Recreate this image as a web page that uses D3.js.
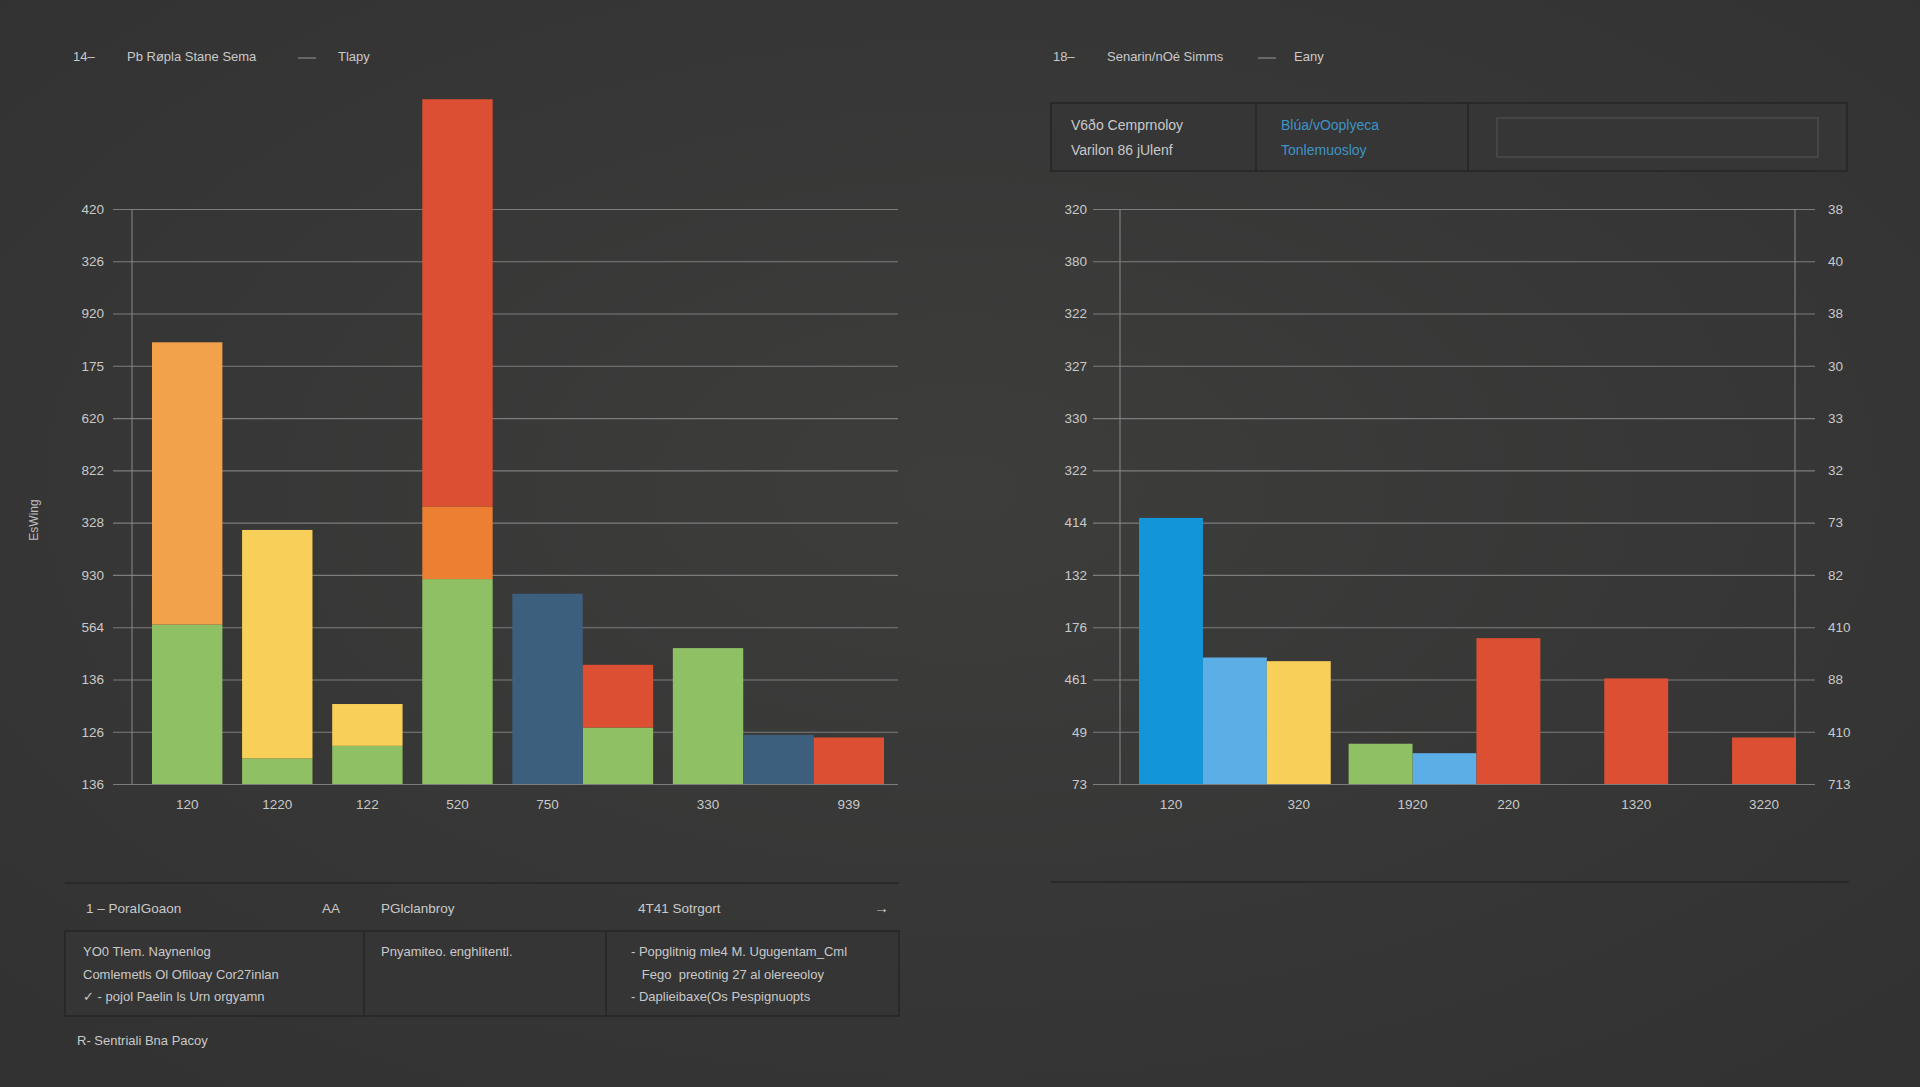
<!DOCTYPE html>
<html>
<head>
<meta charset="utf-8">
<script src="https://cdn.jsdelivr.net/npm/d3@7"></script>
<style>
  html, body { margin: 0; padding: 0; background: #383838; }
  svg { display: block; }
  text { font-family: "Liberation Sans", Arial, sans-serif; }
</style>
</head>
<body>
<script>
// ---- data (values in grid steps) ----
const leftTicks = ["136", "126", "136", "564", "930", "328", "822", "620", "175", "920", "326", "420"];
const leftGroupOf = [0, 1, 2, 3, 4, 4, 5, 5, 5];
const leftGreen = [3.05, 0.49, 0.73, 3.92, 0, 1.08, 2.6, 0, 0];
const leftYellow = [0, 4.37, 0.8, 0, 0, 0, 0, 0, 0];
const leftAmber = [5.4, 0, 0, 0, 0, 0, 0, 0, 0];
const leftOrange = [0, 0, 0, 1.39, 0, 0, 0, 0, 0];
const leftNavy = [0, 0, 0, 0, 3.64, 0, 0, 0.94, 0];
const leftRed = [0, 0, 0, 7.79, 0, 1.2, 0, 0, 0.89];
const leftXLabels = ["120", "1220", "122", "520", "750", "330", "939"];
const leftXSlots = [[0], [1], [2], [3], [4], [6], [8]];

const rightTicksL = ["73", "49", "461", "176", "132", "414", "322", "330", "327", "322", "380", "320"];
const rightTicksR = ["713", "410", "88", "410", "82", "73", "32", "33", "30", "38", "40", "38"];
const rightGroupOf = [0, 0, 0, 1, 1, 1, 1, 1, 1, 1];
const rightBlue = [5.09, 0, 0, 0, 0, 0, 0, 0, 0, 0];
const rightSky = [0, 2.42, 0, 0, 0.59, 0, 0, 0, 0, 0];
const rightYellow = [0, 0, 2.35, 0, 0, 0, 0, 0, 0, 0];
const rightGreen = [0, 0, 0, 0.77, 0, 0, 0, 0, 0, 0];
const rightRed = [0, 0, 0, 0, 0, 2.79, 0, 2.02, 0, 0.89];
const rightXLabels = ["120", "320", "1920", "220", "1320", "3220"];
const rightXSlots = [[0], [2], [3, 4], [5], [7], [9]];

const colors = {
    green: "#8fc064", yellow: "#f8cf58", amber: "#f2a24a", orange: "#ec7f32",
    navy: "#3d5f7e", red: "#dc4f33", blue: "#1296d9", sky: "#5caee6"
};
const textColor = "#c9c9c9";

const W = 1920, H = 1087;
const svg = d3.select("body").append("svg").attr("width", W).attr("height", H);

const grad = svg.append("defs").append("radialGradient").attr("id", "bg")
    .attr("cx", "50%").attr("cy", "45%").attr("r", "70%");
grad.append("stop").attr("offset", "0%").attr("stop-color", "#3d3d3c");
grad.append("stop").attr("offset", "100%").attr("stop-color", "#323232");
svg.append("rect").attr("width", W).attr("height", H).attr("fill", "url(#bg)");

// slot layout: bars of one group touch, groups are separated by a small gap
function slotStarts(groupOf, gap) {
    let x = 0;
    return groupOf.map((g, i) => {
        if (i > 0 && g !== groupOf[i - 1]) x += gap;
        const s = x;
        x += 1;
        return s;
    });
}

function drawChart(cfg) {
    const g = svg.append("g");
    const y = d3.scaleLinear().domain([0, 11]).range([784, 209]);
    const starts = slotStarts(cfg.groupOf, 0.28);
    const total = starts[starts.length - 1] + 1;
    const x = d3.scaleLinear().domain([0, total]).range(cfg.barRange);

    // grid + left tick labels
    const axL = g.append("g").attr("transform", `translate(${cfg.gridRange[0]},0)`)
        .call(d3.axisLeft(y).tickValues(d3.range(12))
            .tickFormat(i => cfg.ticksL[i])
            .tickSize(-(cfg.gridRange[1] - cfg.gridRange[0]))
            .tickPadding(cfg.padL));
    axL.select(".domain").remove();
    axL.selectAll("line").attr("stroke", "#7c7c7c").attr("stroke-width", 1.1);
    axL.selectAll("text").style("font-size", "13.5px").style("fill", textColor);

    if (cfg.ticksR) {
        const axR = g.append("g").attr("transform", `translate(${cfg.gridRange[1]},0)`)
            .call(d3.axisRight(y).tickValues(d3.range(12))
                .tickFormat(i => cfg.ticksR[i]).tickSize(0).tickPadding(13));
        axR.select(".domain").remove();
        axR.selectAll("text").style("font-size", "13.5px").style("fill", textColor);
    }

    // vertical axis lines
    g.selectAll("line.vaxis").data(cfg.vAxes).enter().append("line")
        .attr("class", "vaxis")
        .attr("x1", d => d).attr("x2", d => d)
        .attr("y1", y(0)).attr("y2", y(11))
        .attr("stroke", "#8a8a8a").attr("stroke-width", 1);

    // stacked bars
    const keys = cfg.series.map(s => s.key);
    const rows = cfg.groupOf.map((_, i) => {
        const r = { i: i };
        cfg.series.forEach(s => { r[s.key] = s.values[i]; });
        return r;
    });
    const stacked = d3.stack().keys(keys)(rows);
    g.selectAll("g.layer").data(stacked).enter().append("g")
        .attr("fill", d => colors[d.key])
        .selectAll("rect").data(d => d.filter(p => p[1] > p[0])).enter().append("rect")
        .attr("x", d => x(starts[d.data.i]))
        .attr("width", d => x(starts[d.data.i] + 1) - x(starts[d.data.i]))
        .attr("y", d => y(d[1]))
        .attr("height", d => y(d[0]) - y(d[1]));

    // x labels
    g.selectAll("text.xl").data(cfg.xLabels).enter().append("text")
        .attr("class", "xl")
        .attr("x", (d, i) => d3.mean(cfg.xSlots[i], s => x(starts[s] + 0.5)))
        .attr("y", 809)
        .attr("text-anchor", "middle")
        .style("font-size", "13.5px")
        .style("fill", textColor)
        .text(d => d);
}

drawChart({
    groupOf: leftGroupOf,
    barRange: [152, 884],
    gridRange: [113, 898],
    padL: 9,
    ticksL: leftTicks,
    vAxes: [132],
    xLabels: leftXLabels,
    xSlots: leftXSlots,
    series: [
        { key: "green", values: leftGreen },
        { key: "yellow", values: leftYellow },
        { key: "amber", values: leftAmber },
        { key: "orange", values: leftOrange },
        { key: "navy", values: leftNavy },
        { key: "red", values: leftRed }
    ]
});

drawChart({
    groupOf: rightGroupOf,
    barRange: [1139, 1796],
    gridRange: [1093, 1815],
    padL: 6,
    ticksL: rightTicksL,
    ticksR: rightTicksR,
    vAxes: [1120, 1795],
    xLabels: rightXLabels,
    xSlots: rightXSlots,
    series: [
        { key: "blue", values: rightBlue },
        { key: "sky", values: rightSky },
        { key: "yellow", values: rightYellow },
        { key: "green", values: rightGreen },
        { key: "red", values: rightRed }
    ]
});

function label(x, y, t, size, color) {
    return svg.append("text").attr("x", x).attr("y", y)
        .style("font-size", size + "px").style("fill", color || textColor)
        .style("white-space", "pre").text(t);
}

// ---- headers ----
function header(x0, num, title, tag, dashX, tagX) {
    label(x0, 61, num, 13);
    label(x0 + 54, 61, title, 13);
    svg.append("line").attr("x1", dashX).attr("x2", dashX + 18).attr("y1", 58).attr("y2", 58)
        .attr("stroke", "#9a9a9a");
    label(tagX, 61, tag, 13);
}
header(73, "14–", "Pb Røpla Stane Sema", "Tlapy", 298, 338);
header(1053, "18–", "Senarin/nOé Simms", "Eany", 1258, 1294);

// y title
svg.append("text").attr("transform", "translate(38,520) rotate(-90)")
    .attr("text-anchor", "middle").style("font-size", "12px").style("fill", "#bdbdbd")
    .text("EsWing");

// ---- info box (right) ----
svg.append("rect").attr("x", 1051).attr("y", 103).attr("width", 796).attr("height", 68)
    .attr("fill", "#363636").attr("stroke", "#262626").attr("stroke-width", 1.5);
[1256, 1468].forEach(d => svg.append("line").attr("x1", d).attr("x2", d)
    .attr("y1", 103).attr("y2", 171).attr("stroke", "#262626").attr("stroke-width", 1.5));
svg.append("rect").attr("x", 1497).attr("y", 118).attr("width", 321).attr("height", 39)
    .attr("fill", "none").attr("stroke", "#505050").attr("stroke-width", 1.2);
label(1071, 130, "V6ðo Cemprnoloy", 14);
label(1071, 155, "Varilon 86 jUlenf", 14);
label(1281, 130, "Blúa/vOoplyeca", 14, "#3d94c6");
label(1281, 155, "Tonlemuosloy", 14, "#3d94c6");

// ---- bottom table (left) ----
svg.append("line").attr("x1", 65).attr("x2", 899).attr("y1", 883).attr("y2", 883)
    .attr("stroke", "#262626").attr("stroke-width", 1.5);
svg.append("line").attr("x1", 1051).attr("x2", 1849).attr("y1", 882).attr("y2", 882)
    .attr("stroke", "#262626").attr("stroke-width", 1.5);

const headCells = [
    { x: 86, t: "1 – PoraIGoaon" }, { x: 322, t: "AA" },
    { x: 381, t: "PGlclanbroy" }, { x: 638, t: "4T41 Sotrgort" }
];
headCells.forEach(d => label(d.x, 913, d.t, 13.5));
label(874, 913, "→", 15);

svg.append("rect").attr("x", 65).attr("y", 931).attr("width", 834).attr("height", 85)
    .attr("fill", "#353535").attr("stroke", "#262626").attr("stroke-width", 1.5);
[364, 606].forEach(d => svg.append("line").attr("x1", d).attr("x2", d)
    .attr("y1", 931).attr("y2", 1016).attr("stroke", "#262626").attr("stroke-width", 1.5));

const cellLines = [
    { x: 83, lines: ["YO0 Tlem. Naynenlog", "Comlemetls Ol Ofiloay Cor27inlan", "✓ - pojol Paelin ls Urn orgyamn"] },
    { x: 381, lines: ["Pnyamiteo. enghlitentl."] },
    { x: 631, lines: ["- Popglitnig mle4 M. Ugugentam_Cml", "   Fego  preotinig 27 al olereeoloy", "- Daplieibaxe(Os Pespignuopts"] }
];
cellLines.forEach(c => {
    c.lines.forEach((t, i) => label(c.x, 956 + i * 22.5, t, 13));
});

label(77, 1045, "R- Sentriali Bna Pacoy", 13);
</script>
</body>
</html>
